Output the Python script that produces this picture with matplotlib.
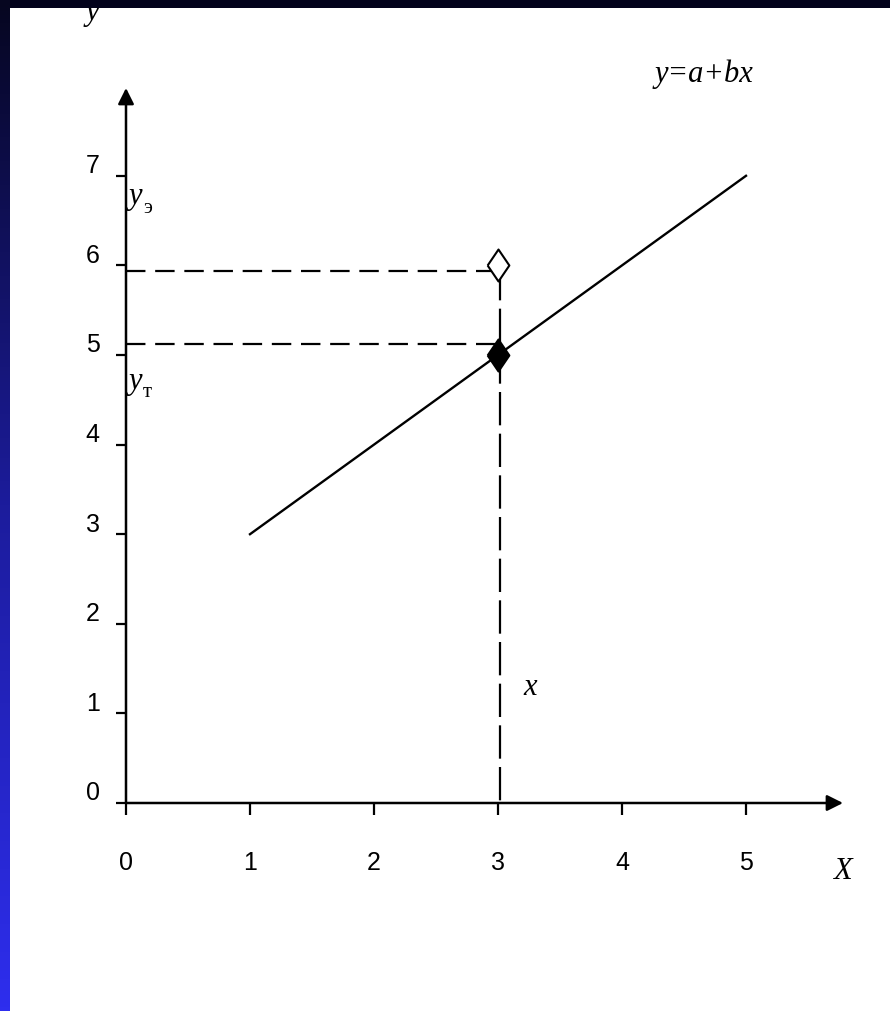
import numpy as np
import matplotlib
matplotlib.use("Agg")
import matplotlib.pyplot as plt
from matplotlib.transforms import ScaledTranslation

# ---- data ----
line_x = [1, 5]
line_y = [3, 7]
point_x = [3]
empirical_y = [6]
theoretical_y = [5]
xticks = [0, 1, 2, 3, 4, 5]
yticks = [0, 1, 2, 3, 4, 5, 6, 7]
guide_y_levels = [5.94, 5.12]
guide_x_level = 3.02
guide_x_end = 2.98
guide_v_top = 5.98

plt.rcParams['lines.scale_dashes'] = False
W, H, DPI = 890, 1012, 100
fig = plt.figure(figsize=(W / DPI, H / DPI), dpi=DPI, facecolor='white')

# main axes covering the full figure; 124 px per x unit, 89.6 px per y unit
x0px, y0px, sx, sy = 126, 804, 124.0, 89.6
ax = fig.add_axes([0, 0, 1, 1])
ax.set_xlim(-x0px / sx, (W - x0px) / sx)
ax.set_ylim((y0px - H) / sy, y0px / sy)
ax.patch.set_visible(False)
for s in ax.spines.values():
    s.set_visible(False)
ax.spines['left'].set_position(('data', 0))
ax.spines['bottom'].set_position(('data', 0))

ax.set_xticks(xticks)
ax.set_yticks(yticks)
ax.set_xticklabels([str(v) for v in xticks], fontsize=18, family='Liberation Sans')
ax.set_yticklabels([str(v) for v in yticks], fontsize=18, family='Liberation Sans')
ax.tick_params(axis='x', direction='out', length=8.6, width=1.6, pad=25)
ax.tick_params(axis='y', direction='out', length=7, width=1.6, pad=12)
for lab in ax.get_yticklabels():
    lab.set_transform(lab.get_transform() + ScaledTranslation(0, 13 / DPI, fig.dpi_scale_trans))

# axis arrows
ytop = (y0px - 89) / sy
xright = (843 - x0px) / sx
ax.annotate('', xy=(0, ytop), xytext=(0, 0),
            arrowprops=dict(arrowstyle='-|>', lw=1.8, color='black', mutation_scale=24,
                            shrinkA=0, shrinkB=0))
ax.annotate('', xy=(xright, 0), xytext=(0, 0),
            arrowprops=dict(arrowstyle='-|>', lw=1.8, color='black', mutation_scale=24,
                            shrinkA=0, shrinkB=0))

# regression line
ax.plot(line_x, line_y, color='black', lw=1.7)

# dashed guides
for yl in guide_y_levels:
    ax.plot([0, guide_x_end], [yl, yl], color='black', lw=1.6, dashes=(14, 7))
ax.plot([guide_x_level, guide_x_level], [guide_v_top, 0], color='black', lw=1.6, dashes=(24, 6))

# points (diamond a bit wider than matplotlib's thin diamond)
diamond = [(-0.68, 0), (0, 1), (0.68, 0), (0, -1), (-0.68, 0)]
ax.plot(point_x, empirical_y, marker=diamond, markersize=23, markerfacecolor='white',
        markeredgecolor='black', markeredgewidth=1.5, linestyle='none', zorder=5)
ax.plot(point_x, theoretical_y, marker=diamond, markersize=23, markerfacecolor='black',
        markeredgecolor='black', markeredgewidth=1.5, linestyle='none', zorder=5)

serif = 'Liberation Serif'
def px2d(px, py):
    return ((px - x0px) / sx, (y0px - py) / sy)

def label(px, py, s, size=22, style='italic', ha='left'):
    x, y = px2d(px, py)
    ax.text(x, y, s, fontsize=size, family=serif, style=style, ha=ha, va='baseline')

label(86, 20, 'y')
label(655, 82, 'y=a+bx')
label(129, 204, 'y')
label(143, 213, 'э', size=15, style='normal')
label(129, 389, 'y')
label(143, 397, 'т', size=15, style='normal')
label(523, 695, 'x')
label(833, 879, 'X')

# background frame: dark top band and blue gradient on the left
top_ax = fig.add_axes([0, 1 - 9 / H, 1, 9 / H], zorder=10)
top_ax.set_axis_off()
top_ax.add_patch(plt.Rectangle((0, 0), 1, 1, transform=top_ax.transAxes, color='#03031c'))

left_ax = fig.add_axes([0, 0, 10 / W, 1], zorder=11)
t = np.linspace(0, 1, 256)[:, None]
c_top = np.array([0x06, 0x06, 0x20]) / 255
c_mid = np.array([0x1c, 0x1c, 0x9c]) / 255
c_bot = np.array([0x2e, 0x2e, 0xee]) / 255
grad = np.where(t < 0.5, c_top + (c_mid - c_top) * (t / 0.5), c_mid + (c_bot - c_mid) * ((t - 0.5) / 0.5))
left_ax.imshow(grad[:, None, :], aspect='auto', extent=[0, 1, 1, 0])
left_ax.set_axis_off()

fig.savefig('out.png', dpi=DPI, facecolor='white')
